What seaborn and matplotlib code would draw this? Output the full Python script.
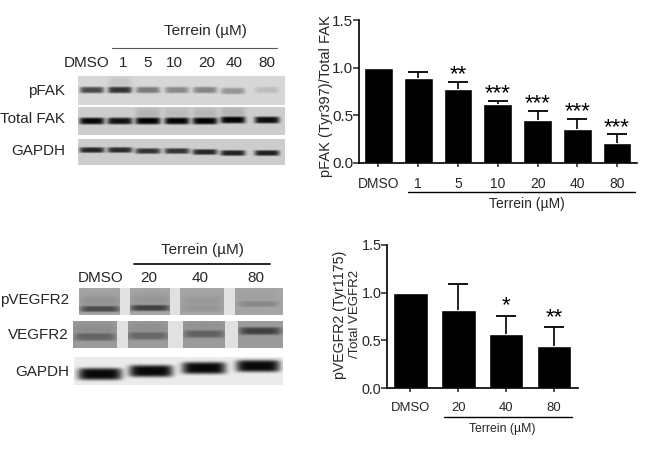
import matplotlib
matplotlib.use("Agg")
import matplotlib.pyplot as plt
import numpy as np
import seaborn as sns

# values
fak_labels = ["DMSO", "1", "5", "10", "20", "40", "80"]
fak_means = [1.0, 0.89, 0.78, 0.62, 0.45, 0.36, 0.21]
fak_errs = [0.0, 0.06, 0.07, 0.03, 0.10, 0.10, 0.09]
fak_stars = ["", "", "**", "***", "***", "***", "***"]

vegfr_labels = ["DMSO", "20", "40", "80"]
vegfr_means = [1.0, 0.82, 0.57, 0.44]
vegfr_errs = [0.0, 0.27, 0.19, 0.20]
vegfr_stars = ["", "", "*", "**"]

y_ticks = [0.0, 0.5, 1.0, 1.5]

# band darkness per lane (0-1), band height in the picture, faint smear above the band
pfak_bands = [0.68, 0.78, 0.45, 0.38, 0.40, 0.32, 0.13]
pfak_y = [90, 90, 90, 90, 90, 91, 90]
pfak_smear = [0.0, 0.08, 0.0, 0.0, 0.0, 0.0, 0.0]
total_fak_bands = [1.0, 0.95, 1.0, 1.0, 1.0, 1.0, 0.98]
total_fak_y = [121, 121, 121, 121, 121, 120, 120]
total_fak_smear = [0.0, 0.0, 0.14, 0.10, 0.12, 0.14, 0.0]
gapdh_top_bands = [0.85, 0.82, 0.78, 0.78, 0.85, 0.88, 0.88]
gapdh_top_y = [150, 150, 151, 151, 152, 153, 153]
gapdh_top_smear = [0.0] * 7

pvegfr_bands = [0.55, 0.62, 0.08, 0.18]
pvegfr_y = [309, 308, 309, 304]
pvegfr_smear = [0.12, 0.10, 0.08, 0.03]
vegfr_bands = [0.36, 0.33, 0.38, 0.62]
vegfr_y = [337, 336, 334, 331]
vegfr_smear = [0.10, 0.08, 0.06, 0.0]
gapdh_low_bands = [1.0, 1.0, 1.0, 1.0]
gapdh_low_y = [374, 371, 368, 366]
gapdh_low_smear = [0.0] * 4

plt.rcParams["font.family"] = ["Liberation Sans", "DejaVu Sans"]
sns.set_style("white")
plt.rcParams["font.family"] = ["Liberation Sans", "DejaVu Sans"]

W, H = 650, 450
fig = plt.figure(figsize=(W / 100, H / 100), dpi=100, facecolor="white")


def px_axes(left, top, right, bottom, **kw):
    return fig.add_axes([left / W, 1 - bottom / H, (right - left) / W, (bottom - top) / H], **kw)


def draw_blot(box, lanes, bands, band_y, smear, half_w, thick, back=190, gaps=None):
    left, top, right, bottom = box
    xs = np.arange(left, right) + 0.5
    ys = np.arange(top, bottom) + 0.5
    img = np.full((len(ys), len(xs)), float(back))
    for cx, dark, by, sm in zip(lanes, bands, band_y, smear):
        across = np.exp(-(((xs - cx) / half_w) ** 6))
        down = np.exp(-(((ys - by) / thick) ** 4))
        haze = np.exp(-(((ys - by + 8) / 6.5) ** 2))
        img -= (back - 8) * dark * np.outer(down, across)
        img -= (back - 8) * sm * np.outer(haze, across)
    if gaps is not None:
        for g0, g1 in gaps:
            img[:, (xs > g0) & (xs < g1)] = 225
    ax = px_axes(left, top, right, bottom)
    sns.heatmap(np.clip(img, 0, 255), ax=ax, cmap="gray", vmin=0, vmax=255, cbar=False,
                xticklabels=False, yticklabels=False)
    return ax


def draw_bars(ax, labels, means, errs, stars, star_gap, fs):
    sns.barplot(x=labels, y=means, ax=ax, color="black", saturation=1, width=0.72)
    for p, m, e, s in zip(range(len(labels)), means, errs, stars):
        if e > 0:
            ax.vlines(p, m, m + e, color="black", lw=1.2)
            ax.plot([p], [m + e], marker="_", ms=14, mew=1.3, color="black")
        if s:
            ax.text(p, m + e + star_gap, s, ha="center", va="center", fontsize=16, color="black")
    ax.set_xlim(-0.49, len(labels) - 0.5)
    ax.set_ylim(0, 1.5)
    ax.set_yticks(y_ticks)
    ax.set_yticklabels([f"{v:.1f}" for v in y_ticks])
    ax.tick_params(axis="y", labelsize=fs + 1, length=4, width=1.1, pad=0, left=True)
    ax.tick_params(axis="x", labelsize=fs, length=3, width=1.1, pad=7, bottom=True)
    sns.despine(ax=ax)
    for side in ["left", "bottom"]:
        ax.spines[side].set_linewidth(1.2)
        ax.spines[side].set_color("black")
    ax.patch.set_alpha(0)


# top blots
top_lanes = [92, 120, 148, 177, 205, 233, 267]
draw_blot((78, 76, 285, 105), top_lanes, pfak_bands, pfak_y, pfak_smear, 12, 3.2, back=215)
draw_blot((78, 107, 285, 135), top_lanes, total_fak_bands, total_fak_y, total_fak_smear, 12.5, 3.4, back=205)
draw_blot((78, 139, 285, 165), top_lanes, gapdh_top_bands, gapdh_top_y, gapdh_top_smear, 12.5, 2.8, back=205)

# bottom blots
draw_blot((79, 288, 283, 315), [100, 150, 202, 258], pvegfr_bands, pvegfr_y, pvegfr_smear, 20, 3.0,
          back=165, gaps=[(120, 130), (170, 180), (224, 235)])
draw_blot((73, 321, 283, 348), [95, 148, 204, 260], vegfr_bands, vegfr_y, vegfr_smear, 21, 3.8,
          back=155, gaps=[(117, 128), (168, 183), (225, 238)])
draw_blot((74, 357, 283, 385), [100, 151, 204, 258], gapdh_low_bands, gapdh_low_y, gapdh_low_smear, 22, 6.0,
          back=235)

# bar charts
ax_fak = px_axes(359, 20, 637, 163)
draw_bars(ax_fak, fak_labels, fak_means, fak_errs, fak_stars, 0.075, 10)
ax_vegfr = px_axes(387, 245, 578, 388)
draw_bars(ax_vegfr, vegfr_labels, vegfr_means, vegfr_errs, vegfr_stars, 0.10, 9.4)

# labels and brackets, in picture pixels
over = fig.add_axes([0, 0, 1, 1], zorder=10)
over.set_xlim(0, W)
over.set_ylim(H, 0)
over.axis("off")
over.patch.set_alpha(0)

blot_fs = 11
over.text(205, 31, "Terrein (µM)", ha="center", va="center", fontsize=blot_fs)
over.plot([112, 277], [48, 48], color="#555555", lw=0.8)
for x, t in zip([87, 123, 148, 174, 207, 234, 267], fak_labels):
    over.text(x, 63, t, ha="center", va="center", fontsize=blot_fs)
for y, t in zip([91, 119, 151], ["pFAK", "Total FAK", "GAPDH"]):
    over.text(65, y, t, ha="right", va="center", fontsize=blot_fs)

over.text(202, 250, "Terrein (µM)", ha="center", va="center", fontsize=blot_fs)
over.plot([134, 270], [264, 264], color="black", lw=1.2)
for x, t in zip([101, 149, 200, 256], vegfr_labels):
    over.text(x, 278, t, ha="center", va="center", fontsize=blot_fs)
for y, t in zip([300, 335, 372], ["pVEGFR2", "VEGFR2", "GAPDH"]):
    over.text(69, y, t, ha="right", va="center", fontsize=blot_fs)

over.text(326, 96, "pFAK (Tyr397)/Total FAK", rotation=90, ha="center", va="center", fontsize=10.5)
over.plot([408, 635], [192, 192], color="black", lw=1)
over.text(527, 204, "Terrein (µM)", ha="center", va="center", fontsize=10)

over.text(340, 315, "pVEGFR2 (Tyr1175)", rotation=90, ha="center", va="center", fontsize=10.2)
over.text(355, 314, "/Total VEGFR2", rotation=90, ha="center", va="center", fontsize=9.5)
over.plot([444, 572], [417, 417], color="black", lw=1)
over.text(502, 429, "Terrein (µM)", ha="center", va="center", fontsize=8.8)

fig.savefig("out.png", dpi=100)
